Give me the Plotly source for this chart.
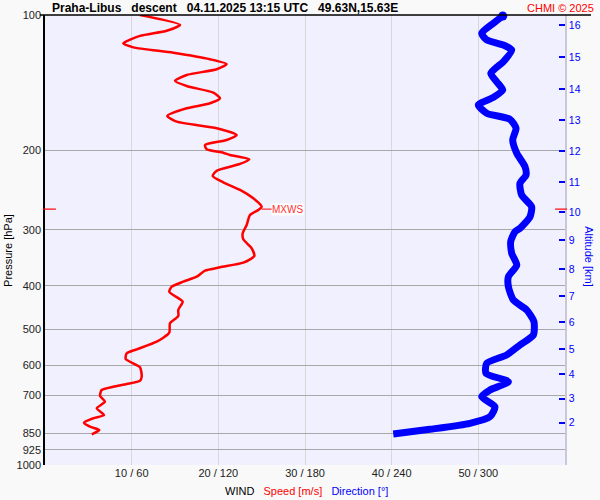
import numpy as np
import plotly.graph_objects as go

# ---------------- data ----------------
speed_p = [100, 105.2, 108.4, 111.3, 115.6, 118.0, 121.3, 125.4, 128.5, 132.0, 135.9, 140.0,
           143.8, 148.8, 153.1, 157.1, 161.2, 167.6, 172.6, 178.5, 184.8, 189.6, 194.5, 198.8,
           202.3, 204.7, 209.2, 214.3, 221.8, 227.9, 235.4, 244.8, 255.5, 266.7, 271.2, 278.3,
           292.9, 305.6, 315.1, 330.0, 343.2, 355.2, 363.6, 370.0, 381.6, 391.4, 401.6, 412.0,
           428.3, 433.6, 452.4, 466.5, 484.3, 508.2, 532.1, 553.2, 564.7, 581.4, 606.6, 636.5,
           649.7, 660.7, 669.9, 681.3, 702.5, 723.3, 748.2, 774.3, 787.5, 805.4, 822.0, 836.0, 854.7]
speed = [10.96, 15.58, 14.04, 10.96, 9.03, 10.19, 14.80, 19.04, 20.96, 19.81, 16.35, 15.0,
         16.35, 19.42, 20.19, 19.04, 16.35, 14.11, 15.20, 19.81, 22.12, 20.96, 18.46, 18.66,
         20.57, 21.35, 23.57, 22.50, 19.81, 19.35, 20.57, 22.50, 24.03, 25.0, 24.61, 23.65,
         23.27, 22.81, 22.88, 23.85, 24.15, 22.88, 20.19, 18.46, 17.50, 15.96, 14.62, 14.34,
         15.58, 15.89, 15.38, 15.38, 14.42, 14.34, 12.89, 10.58, 9.43, 9.31, 10.96, 11.16,
         10.96, 9.43, 7.88, 6.54, 6.35, 6.92, 5.97, 6.81, 5.57, 4.50, 5.19, 6.27, 5.39]

dir_p = [100.5, 104.3, 109.8, 113.6, 116.6, 119.6, 127.0, 134.8, 140.7, 146.8, 152.4, 158.5,
         165.3, 170.5, 178.5, 189.6, 202.9, 217.3, 226.8, 236.6, 251.2, 266.7, 280.7, 297.9,
         303.1, 319.0, 338.5, 359.4, 381.6, 401.6, 429.8, 452.4, 480.3, 514.2, 541.2, 569.6,
         594.3, 625.5, 653.0, 681.3, 705.1, 742.1, 781.0, 807.9, 833.1, 853.3]
direction = [316.9, 310.4, 302.3, 305.8, 317.3, 323.1, 317.3, 308.6, 312.7, 316.9, 310.4, 300.0,
             305.8, 321.9, 326.1, 323.8, 326.6, 332.3, 333.0, 328.8, 330.0, 336.9, 335.8, 328.8,
             325.4, 322.4, 323.1, 326.6, 320.8, 320.8, 324.2, 333.5, 338.5, 338.1, 328.8, 319.6,
             305.8, 305.3, 320.8, 308.1, 302.3, 311.5, 308.1, 294.2, 266.5, 241.1]

p_ticks = [100, 200, 300, 400, 500, 600, 700, 850, 925, 1000]
p_ticktext = [str(v) for v in p_ticks]

alt_km = [16, 15, 14, 13, 12, 11, 10, 9, 8, 7, 6, 5, 4, 3, 2]
alt_p = [105.2, 124.2, 146.3, 171.4, 200.6, 235.0, 274.0, 316.2, 367.4, 421.1, 481.8,
         553.3, 627.9, 712.2, 805.4]

speed_ticks = [10, 20, 30, 40, 50]
speed_ticktext = ["10 / 60", "20 / 120", "30 / 180", "40 / 240", "50 / 300"]

mxws_speed = 25.0
mxws_p = 270.0

title_text = "Praha-Libus\u00a0\u00a0\u00a0descent\u00a0\u00a0\u00a004.11.2025 13:15 UTC\u00a0\u00a0\u00a049.63N,15.63E"

FONT = "Liberation Sans, Arial, sans-serif"
RED = "#ff0000"
BLUE = "#0000ff"

fig = go.Figure()

fig.add_trace(go.Scatter(x=speed, y=speed_p, mode="lines",
                         line=dict(color=RED, width=2.5, shape="spline", smoothing=0.6),
                         xaxis="x", yaxis="y", hoverinfo="skip", showlegend=False))
fig.add_trace(go.Scatter(x=direction, y=dir_p, mode="lines",
                         line=dict(color=BLUE, width=7, shape="spline", smoothing=0.6),
                         xaxis="x2", yaxis="y", hoverinfo="skip", showlegend=False))
fig.add_trace(go.Scatter(x=direction[:1], y=dir_p[:1], mode="markers",
                         marker=dict(color=BLUE, size=9), cliponaxis=False,
                         xaxis="x2", yaxis="y", hoverinfo="skip", showlegend=False))

logmin, logmax = np.log10(1000), np.log10(100)

fig.update_layout(
    width=600, height=500,
    margin=dict(l=45, r=35, t=15, b=35, autoexpand=False),
    paper_bgcolor="#f9f9f9",
    plot_bgcolor="#f0f0fe",
    font=dict(family=FONT, size=11, color="#222222"),
    showlegend=False,
    xaxis=dict(range=[0, 60], tickvals=speed_ticks, ticktext=speed_ticktext,
               showgrid=True, gridcolor="#d8d8d8", gridwidth=1, zeroline=False,
               showline=False, ticks="", tickfont=dict(size=11, color="#222222")),
    xaxis2=dict(range=[0, 360], overlaying="x", visible=False),
    yaxis=dict(type="log", range=[logmin, logmax], tickvals=p_ticks, ticktext=p_ticktext,
               showgrid=True, gridcolor="#a8a8a8", gridwidth=1, zeroline=False,
               showline=True, linecolor="#000000", linewidth=1.5, ticks="",
               tickfont=dict(size=11, color="#222222")),
    yaxis2=dict(type="log", range=[logmin, logmax], overlaying="y", side="right",
                tickvals=alt_p, ticktext=[str(v) for v in alt_km],
                ticks="inside", ticklen=6, tickwidth=1.5, tickcolor=BLUE,
                tickfont=dict(size=10.5, color=BLUE), showgrid=False, zeroline=False,
                showline=True, linecolor="#c8c8d8", linewidth=1.5),
)

# invisible trace to activate y2
fig.add_trace(go.Scatter(x=[None], y=[None], xaxis="x", yaxis="y2", showlegend=False))

mx_paper_y = (logmin - np.log10(mxws_p)) / (logmin - logmax)

shapes = [
    # top black frame line
    dict(type="line", xref="paper", yref="paper", x0=-0.01, x1=1.05, y0=1, y1=1,
         line=dict(color="#000000", width=1.5)),
    # MXWS marks on left and right axis
    dict(type="line", xref="paper", yref="paper", x0=-0.004, x1=0.021,
         y0=mx_paper_y, y1=mx_paper_y, line=dict(color=RED, width=1.2)),
    dict(type="line", xref="paper", yref="paper", x0=0.981, x1=1.004,
         y0=mx_paper_y, y1=mx_paper_y, line=dict(color=RED, width=1.2)),
]
fig.update_layout(shapes=shapes)

annotations = [
    dict(text="<b>" + title_text + "</b>", xref="paper", yref="paper", x=0.01, y=1.016,
         xanchor="left", yanchor="middle", showarrow=False,
         font=dict(size=12, color="#000000", family=FONT)),
    dict(text="CHMI © 2025", xref="paper", yref="paper", x=1.06, y=1.016,
         xanchor="right", yanchor="middle", showarrow=False,
         font=dict(size=11, color=RED, family=FONT)),
    dict(text="Pressure [hPa]", xref="paper", yref="paper", x=-0.071, y=0.476,
         xanchor="center", yanchor="middle", textangle=-90, showarrow=False,
         font=dict(size=11, color="#000000", family=FONT)),
    dict(text="Altitude [km]", xref="paper", yref="paper", x=1.046, y=0.462,
         xanchor="center", yanchor="middle", textangle=90, showarrow=False,
         font=dict(size=11, color=BLUE, family=FONT)),
    dict(text="WIND\u00a0\u00a0\u00a0<span style='color:#ff0000'>Speed [m/s]</span>"
              "\u00a0\u00a0\u00a0<span style='color:#0000ff'>Direction [°]</span>",
         xref="paper", yref="paper", x=0.502, y=-0.058, xanchor="center", yanchor="middle",
         showarrow=False, font=dict(size=11, color="#000000", family=FONT)),
    dict(text="MXWS", xref="x", yref="y", x=mxws_speed, y=np.log10(mxws_p),
         ax=26, ay=0, showarrow=True, arrowhead=0, arrowwidth=1, arrowcolor=RED,
         standoff=0, bgcolor="#ffffff", borderpad=0,
         font=dict(size=10, color="#ff3030", family=FONT)),
]
fig.update_layout(annotations=annotations)

fig.write_html("out.html", config={"displayModeBar": False},
               post_script="document.body.style.margin='0';")
